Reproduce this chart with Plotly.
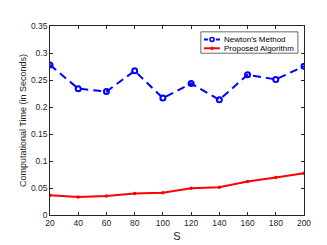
import plotly.graph_objects as go

S = [20, 40, 60, 80, 100, 120, 140, 160, 180, 200]
newton = [0.278, 0.234, 0.2285, 0.267, 0.2165, 0.2435, 0.2135, 0.2595, 0.251, 0.2755]
proposed = [0.0365, 0.0334, 0.0352, 0.040, 0.0413, 0.0495, 0.0513, 0.0621, 0.0693, 0.0772]
x_ticks = [20, 40, 60, 80, 100, 120, 140, 160, 180, 200]
y_ticks = [0, 0.05, 0.1, 0.15, 0.2, 0.25, 0.3, 0.35]
y_labels = ["0", "0.05", "0.1", "0.15", "0.2", "0.25", "0.3", "0.35"]
names = ["Newton\u2032s Method", "Proposed Algorithm"]
colors = ["#0000ff", "#ff0000"]

FONT = "Liberation Sans, Arial"
TXT = "#262626"

fig = go.Figure()
fig.add_trace(go.Scatter(
    x=S, y=newton, name=names[0], mode="lines+markers", showlegend=False,
    line=dict(color=colors[0], width=2, dash="8px,5px"),
    marker=dict(symbol="circle-open", size=5, color=colors[0], line=dict(width=2)),
))
fig.add_trace(go.Scatter(
    x=S, y=proposed, name=names[1], mode="lines+markers", showlegend=False,
    line=dict(color=colors[1], width=2),
    marker=dict(symbol="circle", size=3.5, color=colors[1]),
))

# hand-made compact legend (MATLAB style)
lx0, lx1, ly0, ly1 = 0.594, 0.976, 0.856, 0.969
rows = [0.929, 0.882]
shapes = [dict(type="rect", xref="paper", yref="paper", x0=lx0, x1=lx1, y0=ly0, y1=ly1,
               line=dict(color=TXT, width=0.7), fillcolor="white", layer="above")]
annotations = []
for i, (nm, col, yy) in enumerate(zip(names, colors, rows)):
    shapes.append(dict(type="line", xref="paper", yref="paper", x0=0.606, x1=0.669, y0=yy, y1=yy,
                       line=dict(color=col, width=2, dash="solid" if i else "4px,2px"), layer="above"))
    if i == 0:
        shapes.append(dict(type="circle", xref="paper", yref="paper",
                           x0=0.638 - 0.008, x1=0.638 + 0.008, y0=yy - 0.0105, y1=yy + 0.0105,
                           line=dict(color=col, width=1.6), fillcolor="white", layer="above"))
    else:
        shapes.append(dict(type="circle", xref="paper", yref="paper",
                           x0=0.638 - 0.005, x1=0.638 + 0.005, y0=yy - 0.0065, y1=yy + 0.0065,
                           line=dict(color=col, width=1), fillcolor=col, layer="above"))
    annotations.append(dict(text=nm, xref="paper", yref="paper", x=0.677, y=yy,
                            xanchor="left", yanchor="middle", showarrow=False,
                            font=dict(family=FONT, size=8, color="#000000")))

axis_common = dict(
    showline=True, linecolor=TXT, linewidth=0.7, mirror="ticks",
    ticks="inside", ticklen=3, tickcolor=TXT, tickwidth=0.7,
    showgrid=False, zeroline=False,
    tickfont=dict(family=FONT, size=8.5, color=TXT),
)
fig.update_layout(
    width=327, height=245,
    margin=dict(l=42, r=31, t=18, b=32),
    paper_bgcolor="white", plot_bgcolor="white",
    showlegend=False,
    shapes=shapes, annotations=annotations,
    xaxis=dict(range=[20, 200], tickvals=x_ticks,
               title=dict(text="S", font=dict(family=FONT, size=11, color=TXT), standoff=5),
               **axis_common),
    yaxis=dict(range=[0, 0.35], tickvals=y_ticks, ticktext=y_labels,
               title=dict(text="Computational Time (in Seconds)", font=dict(family=FONT, size=9, color=TXT), standoff=2),
               **axis_common),
)
fig.write_html("out.html")
